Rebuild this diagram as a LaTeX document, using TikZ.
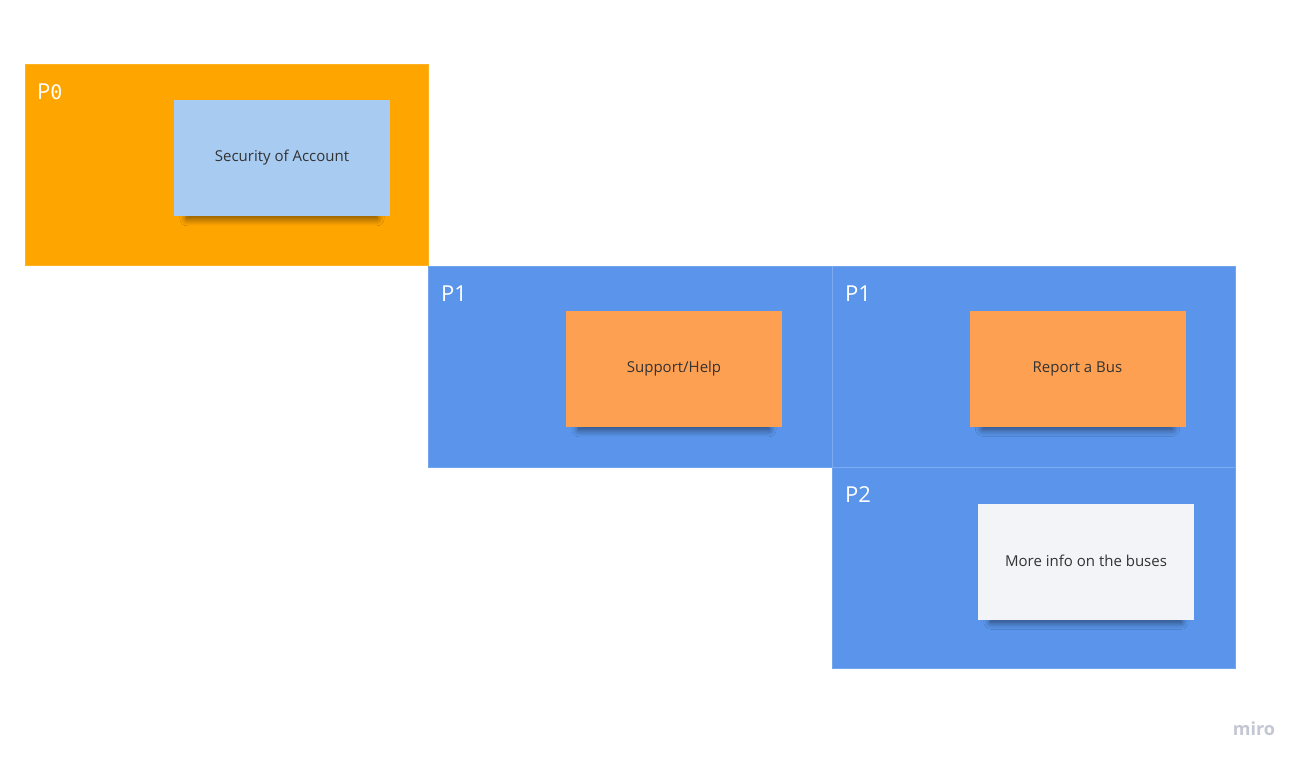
\documentclass[tikz,border=0pt]{standalone}
\usepackage{fontspec}
\setmainfont{Open Sans}
\newfontfamily\zerofont{DejaVu Sans Mono}
\usetikzlibrary{shadows.blur}
\definecolor{frameorange}{HTML}{FFA500}
\definecolor{frameblue}{HTML}{5A95EB}
\definecolor{frameedge}{HTML}{7DAAF0}
\definecolor{notelblue}{HTML}{A7CBF1}
\definecolor{noteorange}{HTML}{FEA052}
\definecolor{notewhite}{HTML}{F3F4F8}
\definecolor{notetext}{HTML}{333333}
\definecolor{logogray}{HTML}{C3C6D3}
\begin{document}
\begin{tikzpicture}[x=1pt,y=-1pt,
  frame/.style={draw=#1!85!white, line width=0.6pt, fill=#1},
  framelabel/.style={anchor=base west, text=white, font=\fontsize{22}{26}\selectfont, inner sep=0pt},
  note/.style={fill=#1, minimum width=216pt, minimum height=116pt, inner sep=0pt,
    text=notetext, font=\fontsize{15}{18}\selectfont,
    blur shadow={shadow xshift=0pt, shadow yshift=-11pt, shadow opacity=55, shadow scale=0.88, shadow blur radius=8pt, shadow blur steps=16}}
]
\useasboundingbox (0,0) rectangle (1305,766);
\fill[white] (0,0) rectangle (1305,766);
% frames
\path[frame=frameorange] (25,64) rectangle (428,265);
\path[frame=frameblue] (428,266) rectangle (832,467);
\path[frame=frameblue] (832,266) rectangle (1235,467);
\path[frame=frameblue] (832,467) rectangle (1235,668);
\draw[frameedge, line width=0.6pt] (832,467) -- (1235,467);
\draw[frameedge, line width=0.6pt] (832,266) -- (832,467);
% frame labels
\node[framelabel] (l0) at (37,99) {P{\zerofont\fontsize{20}{24}\selectfont 0}};
\node[framelabel] (l1) at (441,301) {P1};
\node[framelabel] (l2) at (845,301) {P1};
\node[framelabel] (l3) at (845,502) {P2};
% notes
\node[note=notelblue] (n0) at (282,158) {\raisebox{2pt}{Security of Account}};
\node[note=noteorange] (n1) at (674,369) {\raisebox{2pt}{Support/Help}};
\node[note=noteorange] (n2) at (1077.5,368.5) {\raisebox{2pt}{Report a Bus}};
\node[note=notewhite] (n3) at (1086,561.5) {\raisebox{2pt}{More info on the buses}};
% logo
\node[text=logogray, font=\bfseries\fontsize{18}{20}\selectfont, inner sep=0pt] (logo) at (1254,729) {miro};
\end{tikzpicture}
\end{document}
